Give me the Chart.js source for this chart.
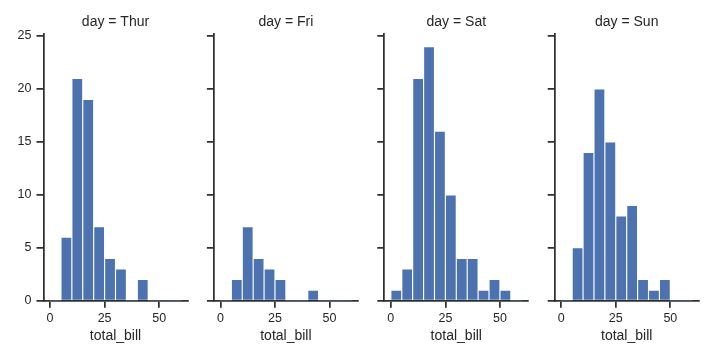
<!DOCTYPE html>
<html>
<head>
<meta charset="utf-8">
<script src="https://cdn.jsdelivr.net/npm/chart.js@4.4.1/dist/chart.umd.min.js"></script>
<style>
  html, body { margin: 0; padding: 0; background: #ffffff; }
  #wrap { position: relative; width: 720px; height: 360px; overflow: hidden; }
  #wrap canvas { position: absolute; left: 0; top: 0; }
</style>
</head>
<body>
<div id="wrap">
  <canvas id="c0" width="720" height="360"></canvas>
  <canvas id="c1" width="720" height="360"></canvas>
  <canvas id="c2" width="720" height="360"></canvas>
  <canvas id="c3" width="720" height="360"></canvas>
</div>
<script>
// ---- data ----
const days = ["Thur", "Fri", "Sat", "Sun"];
const binCenters = [2.5, 7.5, 12.5, 17.5, 22.5, 27.5, 32.5, 37.5, 42.5, 47.5, 52.5, 57.5]; // bins of width 5 from 0 to 60
const thurCounts = [0, 6, 21, 19, 7, 4, 3, 0, 2, 0, 0, 0];
const friCounts  = [0, 2, 7, 4, 3, 2, 0, 0, 1, 0, 0, 0];
const satCounts  = [1, 3, 21, 24, 16, 10, 4, 4, 1, 2, 1, 0];
const sunCounts  = [0, 5, 14, 20, 15, 8, 9, 2, 1, 2, 0, 0];
const xTickValues = [0, 25, 50];
const yTickValues = [0, 5, 10, 15, 20, 25];
const xLabel = "total_bill";

const countsByDay = [thurCounts, friCounts, satCounts, sunCounts];

// ---- styling / layout ----
const FONT = "'Liberation Sans', Arial, sans-serif";
const INK = "#262626";
const SPINE = "#303030";
const BAR = "#4C72B0";
const panelLefts = [43.5, 213.9, 384.3, 554.7];
const panelWidth = 144;
const yAxisBox = 40;

Chart.defaults.font.family = FONT;
Chart.defaults.color = INK;

days.forEach((day, i) => {
  const left = panelLefts[i];
  const right = left + panelWidth;
  new Chart(document.getElementById("c" + i), {
    type: "bar",
    data: {
      labels: binCenters,
      datasets: [{
        data: countsByDay[i],
        backgroundColor: BAR,
        borderColor: "#ffffff",
        borderWidth: (ctx) => (ctx.raw ? 0.9 : 0),
        borderSkipped: "start",
        categoryPercentage: 1.0,
        barPercentage: 1.0
      }]
    },
    options: {
      responsive: false,
      animation: false,
      devicePixelRatio: 1,
      layout: { padding: { left: left - yAxisBox, right: 720 - right, top: 0, bottom: 0 } },
      plugins: {
        legend: { display: false },
        tooltip: { enabled: false },
        title: {
          display: true,
          text: "day = " + day,
          fullSize: false,
          color: INK,
          font: { family: FONT, size: 14, weight: "normal" },
          padding: { top: 13.6, bottom: 3.5 }
        }
      },
      scales: {
        x: {
          type: "linear",
          min: -3,
          max: 63,
          offset: false,
          afterBuildTicks: (s) => { s.ticks = xTickValues.map(v => ({ value: v })); },
          afterFit: (s) => { s.height = 59.3; },
          grid: { display: true, drawOnChartArea: false, offset: false, drawTicks: true, tickLength: 7, color: SPINE, lineWidth: 1.75 },
          border: { display: true, color: SPINE, width: 1.75 },
          ticks: { color: INK, font: { family: FONT, size: 12.5 }, padding: 3, maxRotation: 0, autoSkip: false },
          title: { display: true, text: xLabel, color: INK, font: { family: FONT, size: 14 }, padding: { top: 0, bottom: 15.6 } }
        },
        y: {
          type: "linear",
          min: 0,
          max: 25.2,
          afterBuildTicks: (s) => { s.ticks = yTickValues.map(v => ({ value: v })); },
          afterFit: (s) => { s.width = yAxisBox; },
          grid: { display: true, drawOnChartArea: false, drawTicks: true, tickLength: 7, color: SPINE, lineWidth: 1.75 },
          border: { display: true, color: SPINE, width: 1.75 },
          ticks: {
            color: INK,
            font: { family: FONT, size: 12.5 },
            padding: 5,
            callback: (v) => (i === 0 ? String(v) : "")
          }
        }
      }
    }
  });
});
</script>
</body>
</html>
